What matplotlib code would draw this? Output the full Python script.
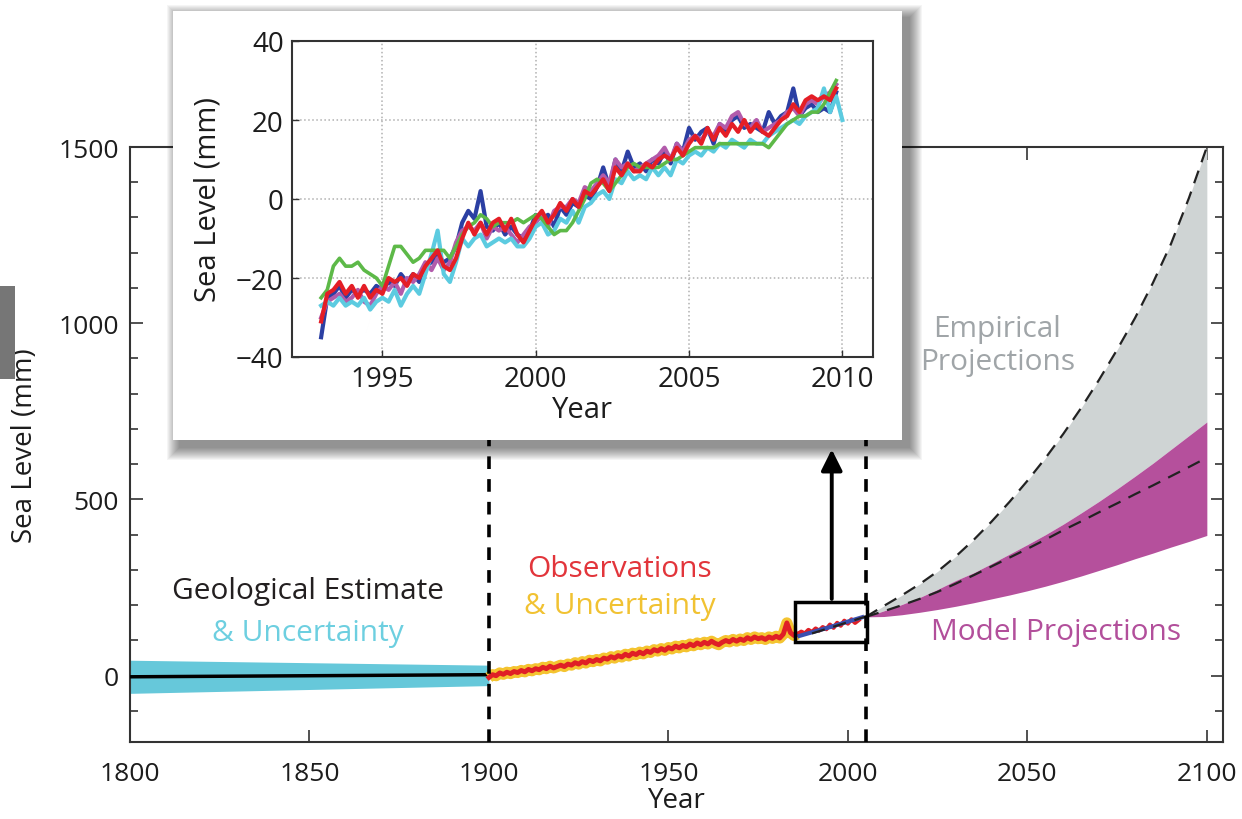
import numpy as np
import matplotlib
matplotlib.use("Agg")
import matplotlib.pyplot as plt
from matplotlib.patches import Rectangle

plt.rcParams['font.family'] = ['Open Sans', 'DejaVu Sans']

# ---- main chart data ----
geo_years = [1800, 1900]
geo_mid = [-3, 3]
geo_low = [-50, -28]
geo_high = [44, 30]

obs_years = list(range(1900, 1987))
obs_vals = [-5, 3, 0, 8, 4, 10, 6, 12, 9, 15,
            11, 18, 14, 20, 17, 24, 20, 27, 22, 26,
            30, 26, 33, 30, 37, 33, 40, 36, 44, 40,
            46, 42, 50, 47, 54, 50, 57, 53, 61, 56,
            64, 60, 67, 62, 70, 66, 74, 70, 77, 72,
            80, 76, 84, 79, 86, 82, 90, 85, 93, 88,
            95, 90, 98, 92, 88, 95, 100, 96, 103, 98,
            104, 100, 108, 103, 110, 105, 108, 103, 110, 106,
            112, 107, 118, 150, 122, 114, 118]

box_red_years = [1986, 1987, 1988, 1989, 1990, 1991, 1992, 1993, 1994, 1995,
                 1996, 1997, 1998, 1999, 2000, 2001, 2002, 2003]
box_red_vals = [118, 125, 120, 130, 124, 134, 128, 138, 132, 145,
                136, 150, 142, 156, 148, 160, 150, 158]
box_blue_years = [1986.5, 1995, 2004]
box_blue_vals = [113, 138, 166]
box_dash_years = [1990, 2005]
box_dash_vals = [120, 168]

proj_years = [2005, 2010, 2015, 2020, 2025, 2030, 2035, 2040, 2045, 2050,
              2055, 2060, 2065, 2070, 2075, 2080, 2085, 2090, 2095, 2100]
emp_upper = [167, 198, 228, 260, 296, 338, 385, 437, 493, 553,
             617, 686, 760, 840, 925, 1015, 1115, 1225, 1355, 1500]
model_upper = [167, 184, 202, 222, 245, 270, 292, 318, 345, 372,
               400, 430, 462, 495, 530, 566, 603, 642, 681, 720]
model_lower = [167, 168, 173, 180, 188, 197, 207, 218, 229, 241,
               254, 268, 283, 299, 315, 332, 348, 365, 381, 398]
mid_years = [2005, 2010, 2015, 2020, 2025, 2030, 2035, 2040, 2045, 2050,
             2055, 2060, 2065, 2070, 2075, 2080, 2085, 2090, 2095, 2098]
model_mid = [167, 183, 200, 218, 238, 261, 285, 310, 335, 360,
             386, 413, 438, 464, 489, 515, 540, 566, 592, 608]

# ---- inset data (0.2 yr steps from 1993.0) ----
red_in = [-31, -24, -23, -21, -24, -22, -25, -22, -25, -23,
          -24, -20, -21, -20, -22, -19, -20, -17, -15, -13,
          -17, -18, -15, -10, -6, -9, -6, -9, -6, -5,
          -8, -5, -9, -11, -8, -5, -3, -6, -4, -1,
          -3, 0, -2, 2, 1, 3, 5, 2, 8, 6,
          9, 7, 7, 9, 8, 10, 11, 10, 13, 11,
          14, 16, 14, 18, 15, 18, 16, 19, 17, 20,
          17, 19, 17, 16, 18, 20, 21, 24, 22, 25,
          26, 25, 26, 25, 28]
blue_in = [-35, -25, -24, -22, -25, -23, -24, -23, -24, -22,
           -23, -21, -22, -19, -21, -19, -21, -17, -16, -14,
           -16, -15, -12, -6, -3, -5, 2, -7, -8, -6,
           -9, -7, -9, -10, -8, -4, -5, -4, -7, -2,
           -4, -1, -2, 1, 0, 3, 8, 3, 10, 7,
           12, 8, 9, 7, 10, 9, 12, 9, 14, 12,
           18, 15, 17, 18, 14, 19, 17, 20, 21, 18,
           19, 18, 17, 22, 19, 21, 22, 28, 21, 23,
           24, 22, 23, 22, 27]
magenta_in = [-30, -26, -25, -24, -26, -25, -23, -26, -27, -24,
              -22, -23, -21, -24, -20, -21, -19, -16, -18, -15,
              -18, -16, -11, -8, -7, -8, -6, -10, -7, -8,
              -7, -9, -11, -9, -7, -6, -4, -7, -3, -2,
              -2, 0, -1, 3, 2, 4, 6, 4, 10, 8,
              9, 7, 8, 9, 10, 11, 13, 10, 14, 12,
              15, 16, 15, 17, 16, 19, 18, 21, 22, 19,
              18, 20, 17, 18, 19, 20, 22, 23, 21, 24,
              25, 24, 26, 27, 29]
cyan_in = [-27, -26, -27, -25, -27, -26, -27, -25, -28, -26,
           -25, -26, -23, -27, -24, -22, -24, -19, -14, -8,
           -19, -21, -16, -10, -12, -10, -9, -12, -11, -10,
           -11, -10, -12, -12, -10, -7, -6, -9, -8, -5,
           -6, -3, -6, -2, -1, 1, 2, 0, 5, 4,
           7, 5, 6, 5, 8, 6, 8, 6, 10, 9,
           11, 12, 11, 13, 12, 14, 13, 15, 14, 13,
           15, 14, 14, 16, 17, 18, 19, 20, 19, 21,
           22, 23, 28, 22, 26, 20]
green_in = [-25, -23, -17, -15, -17, -17, -16, -18, -19, -20,
            -22, -17, -12, -12, -14, -16, -15, -13, -13, -13,
            -13, -15, -12, -9, -7, -6, -4, -5, -7, -6,
            -6, -6, -5, -6, -5, -4, -5, -7, -9, -8,
            -8, -6, -3, 0, 4, 5, 4, 2, 4, 6,
            8, 9, 8, 8, 8, 8, 9, 10, 10, 11,
            12, 13, 13, 13, 13, 14, 14, 14, 14, 14,
            14, 14, 14, 13, 15, 17, 19, 20, 21, 21,
            22, 22, 24, 27, 30]

t85 = 1993.0 + 0.2 * np.arange(85)
t86 = 1993.0 + 0.2 * np.arange(86)

W, H = 1242, 820
TXT = '#1c1c1c'
fig = plt.figure(figsize=(W / 100, H / 100), dpi=100)

# main axes
ax = fig.add_axes([130 / W, (H - 743) / H, (1223 - 130) / W, (743 - 148) / H])
ax.set_xlim(1800, 2104.5)
ax.set_ylim(-188, 1500)

ax.fill_between(geo_years, geo_low, geo_high, color='#66c8da', lw=0, zorder=2)
ax.plot(geo_years, geo_mid, color='black', lw=2.5, zorder=3)

ax.plot(obs_years, obs_vals, color='#f4c430', lw=8, solid_capstyle='butt', zorder=3)
ax.plot(obs_years, obs_vals, color='#e01f26', lw=3.5, zorder=4)
ax.plot(box_red_years, box_red_vals, color='#e01f26', lw=3, zorder=4)
ax.plot(box_blue_years, box_blue_vals, color='#3a4fb0', lw=3, zorder=5)

ax.fill_between(proj_years, model_upper, emp_upper, color='#cfd4d4', lw=0, zorder=2)
ax.fill_between(proj_years, model_lower, model_upper, color='#b5509c', lw=0, zorder=2)
ax.plot(proj_years, emp_upper, color='#222222', lw=1.6, dashes=(6, 4), zorder=3)
ax.plot(mid_years, model_mid, color='#222222', lw=1.6, dashes=(6, 4), zorder=3)
ax.plot(box_dash_years, box_dash_vals, color='#222222', lw=1.6, dashes=(6, 4), zorder=6)

for xv in (1900, 2005):
    ax.axvline(xv, color='black', lw=2.6, dashes=(3.5, 2.8), zorder=6)

ax.add_patch(Rectangle((1985.2, 96), 20.1, 114, fill=False, ec='black', lw=2.5, zorder=7))
ax.annotate('', xy=(1995.5, 650), xytext=(1995.5, 210),
            arrowprops=dict(arrowstyle='-|>', color='black', lw=2.8, mutation_scale=32),
            zorder=7)

FS = 21.5
ax.text(1849.6, 241, 'Geological Estimate', color='#231f20', fontsize=FS, ha='center', va='center')
ax.text(1849.6, 122, '& Uncertainty', color='#6dcfe0', fontsize=FS, ha='center', va='center')
ax.text(1936.4, 303, 'Observations', color='#e2353b', fontsize=FS, ha='center', va='center')
ax.text(1936.4, 198, '& Uncertainty', color='#f1c232', fontsize=FS, ha='center', va='center')
ax.text(2041.5, 984, 'Empirical', color='#a0a5a8', fontsize=FS, ha='center', va='center')
ax.text(2041.8, 892, 'Projections', color='#a0a5a8', fontsize=FS, ha='center', va='center')
ax.text(2058, 125, 'Model Projections', color='#b24f9b', fontsize=FS, ha='center', va='center')

ax.set_xticks(range(1800, 2101, 50))
ax.set_yticks([0, 500, 1000, 1500])
ax.set_yticks(range(-100, 1500, 100), minor=True)
ax.tick_params(which='both', direction='in', top=True, right=True, width=1.2, labelsize=19,
               colors='#333333', labelcolor=TXT)
ax.tick_params(which='major', length=9)
ax.tick_params(axis='x', which='major', pad=14)
ax.tick_params(axis='y', which='major', pad=8)
ax.tick_params(which='minor', length=6)
for s in ax.spines.values():
    s.set_linewidth(1.5)
    s.set_color('#333333')
ax.set_xlabel('Year', fontsize=20, labelpad=0, color=TXT)
ax.set_ylabel('Sea Level (mm)', fontsize=20, labelpad=14, color=TXT)

# inset panel with soft shadow
px0, py0, px1, py1 = 173, 12, 902, 441
for i in range(1, 14):
    fig.patches.append(Rectangle(((px0 + 7 - i) / W, (H - py1 - 7 - i) / H),
                                 (px1 - px0 + 2 * i) / W, (py1 - py0 + 2 * i) / H,
                                 transform=fig.transFigure, color='black', alpha=0.04,
                                 lw=0, zorder=1))
fig.patches.append(Rectangle((px0 / W, (H - py1) / H), (px1 - px0) / W, (py1 - py0) / H,
                             transform=fig.transFigure, color='white', lw=0, zorder=2))
fig.patches.append(Rectangle((0, (H - 380) / H), 15 / W, 93 / H,
                             transform=fig.transFigure, color='#767676', lw=0, zorder=2))

ins = fig.add_axes([292 / W, (H - 358) / H, (873 - 292) / W, (358 - 42) / H])
ins.set_zorder(3)
ins.plot(t85, blue_in, color='#2b3fa3', lw=3)
ins.plot(t85, magenta_in, color='#b25bab', lw=3)
ins.plot(t86, cyan_in, color='#5ccbe0', lw=3)
ins.plot(t85, green_in, color='#5db948', lw=2.6)
ins.plot(t85, red_in, color='#e41e26', lw=3)
ins.set_xlim(1992.05, 2011.0)
ins.set_ylim(-40, 40)
ins.set_xticks([1995, 2000, 2005, 2010])
ins.set_yticks([-40, -20, 0, 20, 40])
ins.grid(True, color='#b0b0b0', ls=':', lw=1.1)
ins.tick_params(direction='in', labelsize=20, length=5, width=1, colors='#333333',
                labelcolor=TXT, pad=6)
for s in ins.spines.values():
    s.set_linewidth(1.5)
    s.set_color('#333333')
ins.set_xlabel('Year', fontsize=21, labelpad=1, color=TXT)
ins.set_ylabel('Sea Level (mm)', fontsize=21, labelpad=10, color=TXT)

fig.savefig('out.png', dpi=100)
